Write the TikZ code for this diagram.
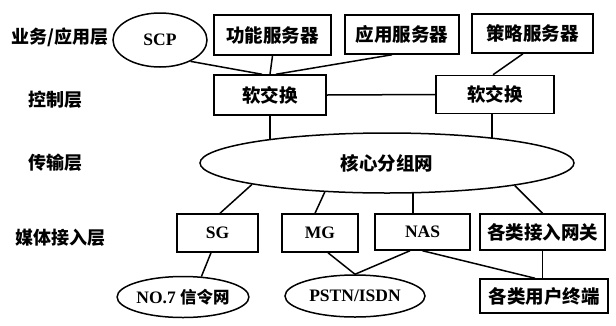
\documentclass[tikz,border=0pt]{standalone}
\usepackage{fontspec}
\setmainfont{Liberation Serif}
\newfontfamily\cjk{Noto Sans CJK SC}
\usetikzlibrary{shapes.geometric,backgrounds}
\tikzset{
  zhfont/.style={font=\cjk\bfseries\fontsize{18.5}{20}\selectfont},
  enfont/.style={font=\rmfamily\bfseries\fontsize{17.5}{20}\selectfont},
  lbl/.style={font=\cjk\bfseries\fontsize{18}{20}\selectfont, inner sep=0pt},
  box/.style={draw, line width=1.5pt, fill=white, inner sep=0pt, rectangle},
  oval/.style={draw, line width=1.5pt, fill=white, inner sep=0pt, ellipse},
  link/.style={line width=1.5pt},
}
\begin{document}
\begin{tikzpicture}[x=1pt, y=-1pt]
\useasboundingbox (0,0) rectangle (616,325);
% layer labels
\node[lbl] (l1) at (60,37) {业务/应用层};
\node[lbl] (l2) at (55,100) {控制层};
\node[lbl] (l3) at (55,163) {传输层};
\node[lbl] (l4) at (60,238) {媒体接入层};
% service layer
\node[oval, enfont, minimum width=94pt, minimum height=54pt] (scp) at (160,40) {SCP};
\node[box, zhfont, minimum width=117pt, minimum height=40pt] (fn) at (272.5,35) {功能服务器};
\node[box, zhfont, minimum width=114pt, minimum height=39pt] (app) at (402,34.5) {应用服务器};
\node[box, zhfont, minimum width=121pt, minimum height=39pt] (pol) at (532.5,33.5) {策略服务器};
% control layer
\node[box, zhfont, minimum width=112pt, minimum height=40pt] (ss1) at (270,95) {软交换};
\node[box, zhfont, minimum width=118pt, minimum height=38pt] (ss2) at (495,94.5) {软交换};
% transport
\node[oval, zhfont, minimum width=374pt, minimum height=60pt] (core) at (387,163) {核心分组网};
% access layer
\node[box, enfont, minimum width=81pt, minimum height=38pt] (sg) at (217.5,233) {SG};
\node[box, enfont, minimum width=76pt, minimum height=38pt] (mg) at (320,233) {MG};
\node[box, enfont, minimum width=95pt, minimum height=36pt] (nas) at (422.5,232) {NAS};
\node[box, zhfont, minimum width=125pt, minimum height=36pt] (gw) at (542.5,232) {各类接入网关};
% bottom
\node[oval, enfont, minimum width=113pt, minimum height=41pt] (no7) at (183,297) {NO.7 {\cjk\bfseries\fontsize{16.5}{20}\selectfont 信令网}};
\node[oval, enfont, minimum width=140pt, minimum height=42pt] (pstn) at (355,296) {PSTN/ISDN};
\node[box, zhfont, minimum width=128pt, minimum height=34pt] (term) at (544,296) {各类用户终端};
% connectors
\begin{scope}[on background layer]
\draw[link] (scp.-35) -- ([xshift=-8pt]ss1.north);
\draw[link] (fn.south) -- (ss1.north);
\draw[link] ([xshift=-10pt]app.south) -- ([xshift=6pt]ss1.north);
\draw[link] ([xshift=-9.5pt]pol.south) -- ([xshift=-2pt]ss2.north);
\draw[link] (ss1.east) -- (ss2.west);
\draw[link] (ss1.south) -- (ss1.south |- core.center);
\draw[link] ([xshift=-3pt]ss2.south) -- ([xshift=-3pt]ss2.south |- core.center);
\draw[link] (core.189) -- ([xshift=2.5pt]sg.north);
\draw[link] (core.205) -- ([xshift=-5pt]mg.north);
\draw[link] ([xshift=-9.5pt]nas.north) -- ([xshift=-9.5pt]nas.north |- core.center);
\draw[link] (core.-10) -- (gw.north);
\draw[link] ([xshift=-6.5pt]sg.south) -- (no7.48);
\draw[link] ([xshift=8pt]mg.south) -- (pstn.north);
\draw[link] ([xshift=-12.5pt]nas.south) -- (pstn.north);
\draw[link] (nas.south) -- ([xshift=-9pt]term.north);
\draw[link] (gw.south) -- (gw.south |- term.north);
\end{scope}
\end{tikzpicture}
\end{document}
